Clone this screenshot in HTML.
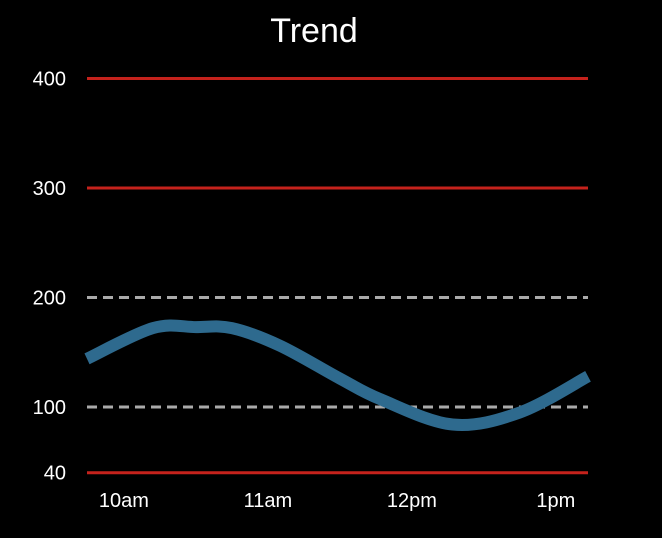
<!DOCTYPE html>
<html><head><meta charset="utf-8"><style>
html,body{margin:0;padding:0;background:#000;}
svg{display:block;font-family:"Liberation Sans",sans-serif;}
</style></head><body>
<svg id="chart" width="662" height="538">
<text x="314" y="42" fill="#fff" font-size="34" text-anchor="middle">Trend</text>
<g id="grid"></g><g id="ylabels"></g><g id="xlabels"></g><g id="series"></g>
</svg>
<script>
const minutes=[-15.4,12,30,45,65,90,107,137,165,193.4];
const values=[144,172,173,172,156,126,107,84,95,128];
const yTicks=[40,100,200,300,400];
const redTicks=[40,300,400];
const xTickMinutes=[0,60,120,180];
const xTickLabels=["10am","11am","12pm","1pm"];
const xMin=-15.4,xMax=193.4,x0=87,x1=588;
function xs(m){return x0+(m-xMin)/(xMax-xMin)*(x1-x0);}
function ys(v){return 407-(v-100)*1.095;}
const NS="http://www.w3.org/2000/svg";
const grid=document.getElementById('grid'),yl=document.getElementById('ylabels'),xl=document.getElementById('xlabels'),ser=document.getElementById('series');
yTicks.forEach(t=>{
  const l=document.createElementNS(NS,'line');
  l.setAttribute('x1',x0);l.setAttribute('x2',x1);l.setAttribute('y1',ys(t));l.setAttribute('y2',ys(t));
  const red=redTicks.includes(t);
  l.setAttribute('stroke',red?'#c5221c':'#aaa');l.setAttribute('stroke-width','3');
  if(!red)l.setAttribute('stroke-dasharray','10 6');
  
  
  grid.appendChild(l);
  const tx=document.createElementNS(NS,'text');
  tx.setAttribute('x',66);tx.setAttribute('y',ys(t)+7);tx.setAttribute('fill','#fff');tx.setAttribute('font-size','20');tx.setAttribute('text-anchor','end');
  tx.textContent=t;
  
  
  yl.appendChild(tx);
});
xTickMinutes.forEach((m,i)=>{
  const tx=document.createElementNS(NS,'text');
  tx.setAttribute('x',xs(m));tx.setAttribute('y',507);tx.setAttribute('fill','#fff');tx.setAttribute('font-size','20');tx.setAttribute('text-anchor','middle');
  tx.textContent=xTickLabels[i];
  
  
  xl.appendChild(tx);
});
const pts=minutes.map((m,i)=>[xs(m),ys(values[i])]);
let d='M'+pts[0][0]+','+pts[0][1];
for(let i=0;i<pts.length-1;i++){
  const p0=pts[Math.max(0,i-1)],p1=pts[i],p2=pts[i+1],p3=pts[Math.min(pts.length-1,i+2)];
  const c1=[p1[0]+(p2[0]-p0[0])/6,p1[1]+(p2[1]-p0[1])/6];
  const c2=[p2[0]-(p3[0]-p1[0])/6,p2[1]-(p3[1]-p1[1])/6];
  d+=' C'+c1+' '+c2+' '+p2;
}
const path=document.createElementNS(NS,'path');
path.setAttribute('d',d);path.setAttribute('fill','none');path.setAttribute('stroke','#2e6a8e');path.setAttribute('stroke-width','12');


ser.appendChild(path);
</script>
</body></html>
